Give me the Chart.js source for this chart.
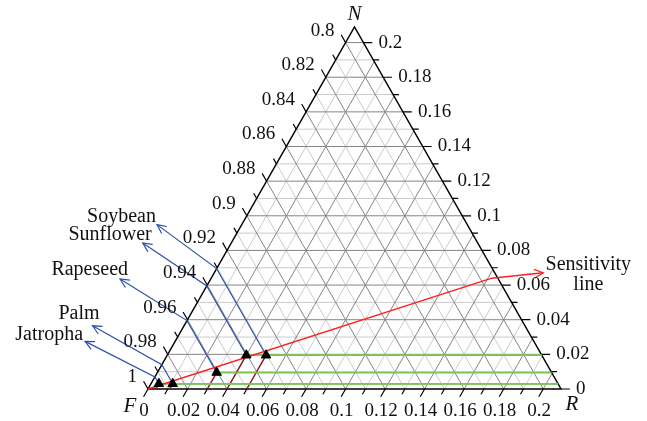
<!DOCTYPE html>
<html>
<head>
<meta charset="utf-8">
<script src="https://cdn.jsdelivr.net/npm/chart.js@4.4.1/dist/chart.umd.min.js"></script>
<style>
  body { margin: 0; background: #fff; }
</style>
</head>
<body>
<canvas id="ternary" width="647" height="421"></canvas>
<script>
// zoomed ternary window: F runs 1 -> 1-SPAN, R and N run 0 -> SPAN
const SPAN = 0.209;
const STEP = 0.01;

const oils = ['Jatropha', 'Palm', 'Rapeseed', 'Sunflower', 'Soybean'];
const oilR = [0.004, 0.011, 0.030, 0.040, 0.050];
const oilN = [0.003, 0.003, 0.0095, 0.0195, 0.0195];
// end of each callout arrow, outside the left edge
const calloutR = [-0.0456, -0.0463, -0.0459, -0.0448, -0.0429];
const calloutN = [0.0275, 0.0365, 0.0635, 0.0843, 0.0949];

const sensR = [0, 0.142, 0.1665];
const sensN = [0, 0.064, 0.0671];

const bottomTicks = ['0', '0.02', '0.04', '0.06', '0.08', '0.1', '0.12', '0.14', '0.16', '0.18', '0.2'];
const rightTicks = ['0', '0.02', '0.04', '0.06', '0.08', '0.1', '0.12', '0.14', '0.16', '0.18', '0.2'];
const leftTicks = ['1', '0.98', '0.96', '0.94', '0.92', '0.9', '0.88', '0.86', '0.84', '0.82', '0.8'];

const SERIF = '"Liberation Serif", "Times New Roman", serif';
// pixel nudges for the callout names, relative to the arrow tips
const calloutTextShift = [[-2, -7], [7, -12], [8, -9], [9, -8], [-1, -8]];

// ternary (R, N) -> cartesian data point
function xy(r, n) {
  return { x: r + n / 2, y: n };
}

function line(points, color, width, order) {
  return {
    data: points,
    showLine: true,
    borderColor: color,
    borderWidth: width,
    pointRadius: 0,
    clip: false,
    order: order
  };
}

const datasets = [];
oils.forEach((name, i) => {
  const fLeft = oilR[i] + oilN[i];
  datasets.push(line([xy(oilR[i], oilN[i]), xy(0, fLeft), xy(calloutR[i], calloutN[i])], '#2f4fae', 1.2, 3));
  datasets.push(line([xy(oilR[i], 0), xy(oilR[i], oilN[i])], '#8e1c1c', 1.5, 3));
  datasets.push(line([xy(oilR[i], oilN[i]), xy(SPAN - oilN[i], oilN[i])], '#7cc35a', 1.8, 2));
});
datasets.push(line(sensR.map((r, i) => xy(r, sensN[i])), '#ff1f1f', 1.5, 1));
datasets.push({
  data: oils.map((n, i) => xy(oilR[i], oilN[i])),
  pointStyle: 'triangle',
  pointRadius: 5.5,
  pointBackgroundColor: '#000',
  pointBorderColor: '#000',
  showLine: false,
  clip: false,
  order: 0
});

function arrowHead(ctx, from, to, len, color) {
  const a = Math.atan2(to.y - from.y, to.x - from.x);
  ctx.save();
  ctx.strokeStyle = color;
  ctx.lineWidth = 1.2;
  ctx.beginPath();
  ctx.moveTo(to.x - len * Math.cos(a - 0.45), to.y - len * Math.sin(a - 0.45));
  ctx.lineTo(to.x, to.y);
  ctx.lineTo(to.x - len * Math.cos(a + 0.45), to.y - len * Math.sin(a + 0.45));
  ctx.stroke();
  ctx.restore();
}

const ternaryFrame = {
  id: 'ternaryFrame',
  beforeDatasetsDraw(chart) {
    const { ctx, scales: { x, y } } = chart;
    const px = (r, n) => ({ x: x.getPixelForValue(r + n / 2), y: y.getPixelForValue(n) });
    const seg = (a, b) => { ctx.moveTo(a.x, a.y); ctx.lineTo(b.x, b.y); };

    ctx.save();
    ctx.lineWidth = 1;
    // light odd lines first, darker even lines on top
    [1, 0].forEach(parity => {
      ctx.strokeStyle = parity ? '#cbcbcb' : '#858585';
      ctx.beginPath();
      for (let k = 1; k * STEP < SPAN; k++) {
        if (k % 2 !== parity) continue;
        const v = k * STEP;
        seg(px(0, v), px(SPAN - v, v));
        seg(px(v, 0), px(v, SPAN - v));
        seg(px(v, 0), px(0, v));
      }
      ctx.stroke();
    });

    // frame
    ctx.strokeStyle = '#000';
    ctx.lineWidth = 1.5;
    ctx.beginPath();
    const a = px(0, 0), b = px(SPAN, 0), c = px(0, SPAN);
    ctx.moveTo(a.x, a.y); ctx.lineTo(b.x, b.y); ctx.lineTo(c.x, c.y); ctx.closePath();
    ctx.stroke();

    // ticks every 0.01, longer at 0.02
    ctx.lineWidth = 1.2;
    ctx.beginPath();
    for (let k = 0; k * STEP < SPAN; k++) {
      const v = k * STEP;
      const t = k % 2 ? 0.003 : 0.0045;
      seg(px(v, 0), px(v, -t));
      seg(px(SPAN - v, v), px(SPAN - v + t, v));
      seg(px(0, v), px(-t, v + t));
    }
    ctx.stroke();
    ctx.restore();
  },
  afterDatasetsDraw(chart) {
    const { ctx, scales: { x, y } } = chart;
    const px = (r, n) => ({ x: x.getPixelForValue(r + n / 2), y: y.getPixelForValue(n) });

    // arrow heads
    oils.forEach((name, i) => {
      const from = px(0, oilR[i] + oilN[i]);
      const to = px(calloutR[i], calloutN[i]);
      arrowHead(ctx, from, to, 10, '#2f4fae');
    });
    const last = sensR.length - 1;
    const sTip = px(sensR[last], sensN[last]);
    arrowHead(ctx, px(sensR[last - 1], sensN[last - 1]), sTip, 10, '#ff1f1f');

    ctx.save();
    ctx.fillStyle = '#111';
    ctx.font = '19px ' + SERIF;
    ctx.textBaseline = 'middle';

    // tick labels
    ctx.textAlign = 'center';
    bottomTicks.forEach(t => {
      const p = px(parseFloat(t), 0);
      ctx.fillText(t, p.x - 4, p.y + 22);
    });
    ctx.textAlign = 'left';
    rightTicks.forEach(t => {
      const v = parseFloat(t);
      const p = px(SPAN - v, v);
      ctx.fillText(t, p.x + 15, p.y);
    });
    ctx.textAlign = 'right';
    leftTicks.forEach(t => {
      const p = px(0, 1 - parseFloat(t));
      ctx.fillText(t, p.x - 11, p.y - 12);
    });

    // callout labels
    ctx.font = '20px ' + SERIF;
    oils.forEach((name, i) => {
      const p = px(calloutR[i], calloutN[i]);
      ctx.fillText(name, p.x + calloutTextShift[i][0], p.y + calloutTextShift[i][1]);
    });
    ctx.textAlign = 'center';
    ctx.fillText('Sensitivity', sTip.x + 45, sTip.y - 8);
    ctx.fillText('line', sTip.x + 45, sTip.y + 12);

    // vertex names
    ctx.font = 'italic 21px ' + SERIF;
    const nV = px(0, SPAN), fV = px(0, 0), rV = px(SPAN, 0);
    ctx.fillText('N', nV.x, nV.y - 13);
    ctx.fillText('F', fV.x - 18, fV.y + 17);
    ctx.fillText('R', rV.x + 11, rV.y + 15);
    ctx.restore();
  }
};

new Chart(document.getElementById('ternary'), {
  type: 'scatter',
  data: { datasets: datasets },
  options: {
    responsive: false,
    animation: false,
    layout: { padding: { left: 148, right: 86, top: 27, bottom: 32 } },
    scales: {
      x: { type: 'linear', min: 0, max: SPAN, display: false },
      y: { type: 'linear', min: 0, max: SPAN, display: false }
    },
    plugins: {
      legend: { display: false },
      tooltip: { enabled: false }
    }
  },
  plugins: [ternaryFrame]
});
</script>
</body>
</html>
